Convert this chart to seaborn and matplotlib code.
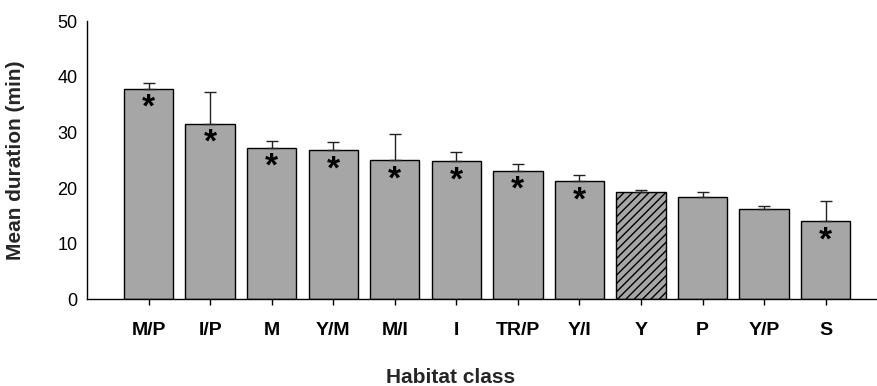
import matplotlib
matplotlib.use("Agg")
import matplotlib.pyplot as plt
import seaborn as sns
import pandas as pd
import numpy as np

categories = ["M/P", "I/P", "M", "Y/M", "M/I", "I", "TR/P", "Y/I", "Y", "P", "Y/P", "S"]
means = [37.8, 31.5, 27.2, 26.8, 25.0, 24.8, 23.1, 21.2, 19.25, 18.35, 16.2, 14.0]
upper_err = [1.1, 5.8, 1.2, 1.5, 4.8, 1.7, 1.2, 1.2, 0.35, 0.95, 0.6, 3.6]
significant = [True, True, True, True, True, True, True, True, False, False, False, True]
reference_class = "Y"

sns.set_style("white")
plt.rcParams["font.family"] = ["Liberation Sans", "DejaVu Sans"]

df = pd.DataFrame({"Habitat class": categories, "Mean duration (min)": means})

fig = plt.figure(figsize=(8.78, 3.86), dpi=100)
ax = fig.add_axes([87 / 878, 1 - 299.3 / 386, 1 - 87 / 878, (299.3 - 21.3) / 386])

sns.barplot(data=df, x="Habitat class", y="Mean duration (min)", order=categories,
            color="#a6a6a6", saturation=1, edgecolor="black", linewidth=1.0,
            width=0.8, errorbar=None, ax=ax)

for patch, cat in zip(ax.patches, categories):
    if cat == reference_class:
        patch.set_hatch("////")

x = np.arange(len(categories))
ax.errorbar(x, means, yerr=[np.zeros(len(means)), upper_err], fmt="none",
            ecolor="#222222", elinewidth=1.0, capsize=4, capthick=1.0, zorder=1)

for i, (m, s) in enumerate(zip(means, significant)):
    if s:
        ax.text(i, m - 5.0, "*", ha="center", va="baseline", fontsize=24,
                fontweight="bold", color="black")

ax.set_xlim(-1, 11.85)
ax.set_ylim(0, 50)
ax.set_yticks([0, 10, 20, 30, 40, 50])
sns.despine(ax=ax)
ax.spines["left"].set_linewidth(1.0)
ax.spines["bottom"].set_linewidth(1.0)
ax.spines["left"].set_color("black")
ax.spines["bottom"].set_color("black")

ax.tick_params(axis="y", length=0, pad=7, labelsize=13, colors="black")
ax.tick_params(axis="x", direction="out", length=4, width=1, pad=12,
               labelsize=14, colors="black", bottom=True)
for lab in ax.get_xticklabels():
    lab.set_fontweight("bold")

ax.set_xlabel("Habitat class", fontsize=15, fontweight="bold")
ax.set_ylabel("Mean duration (min)", fontsize=15, fontweight="bold")
ax.xaxis.set_label_coords(0.46, -0.28)
ax.xaxis.label.set_va("center")
ax.yaxis.set_label_coords(-0.091, 0.5)
ax.yaxis.label.set_va("center")

fig.savefig("out.png", dpi=100)
